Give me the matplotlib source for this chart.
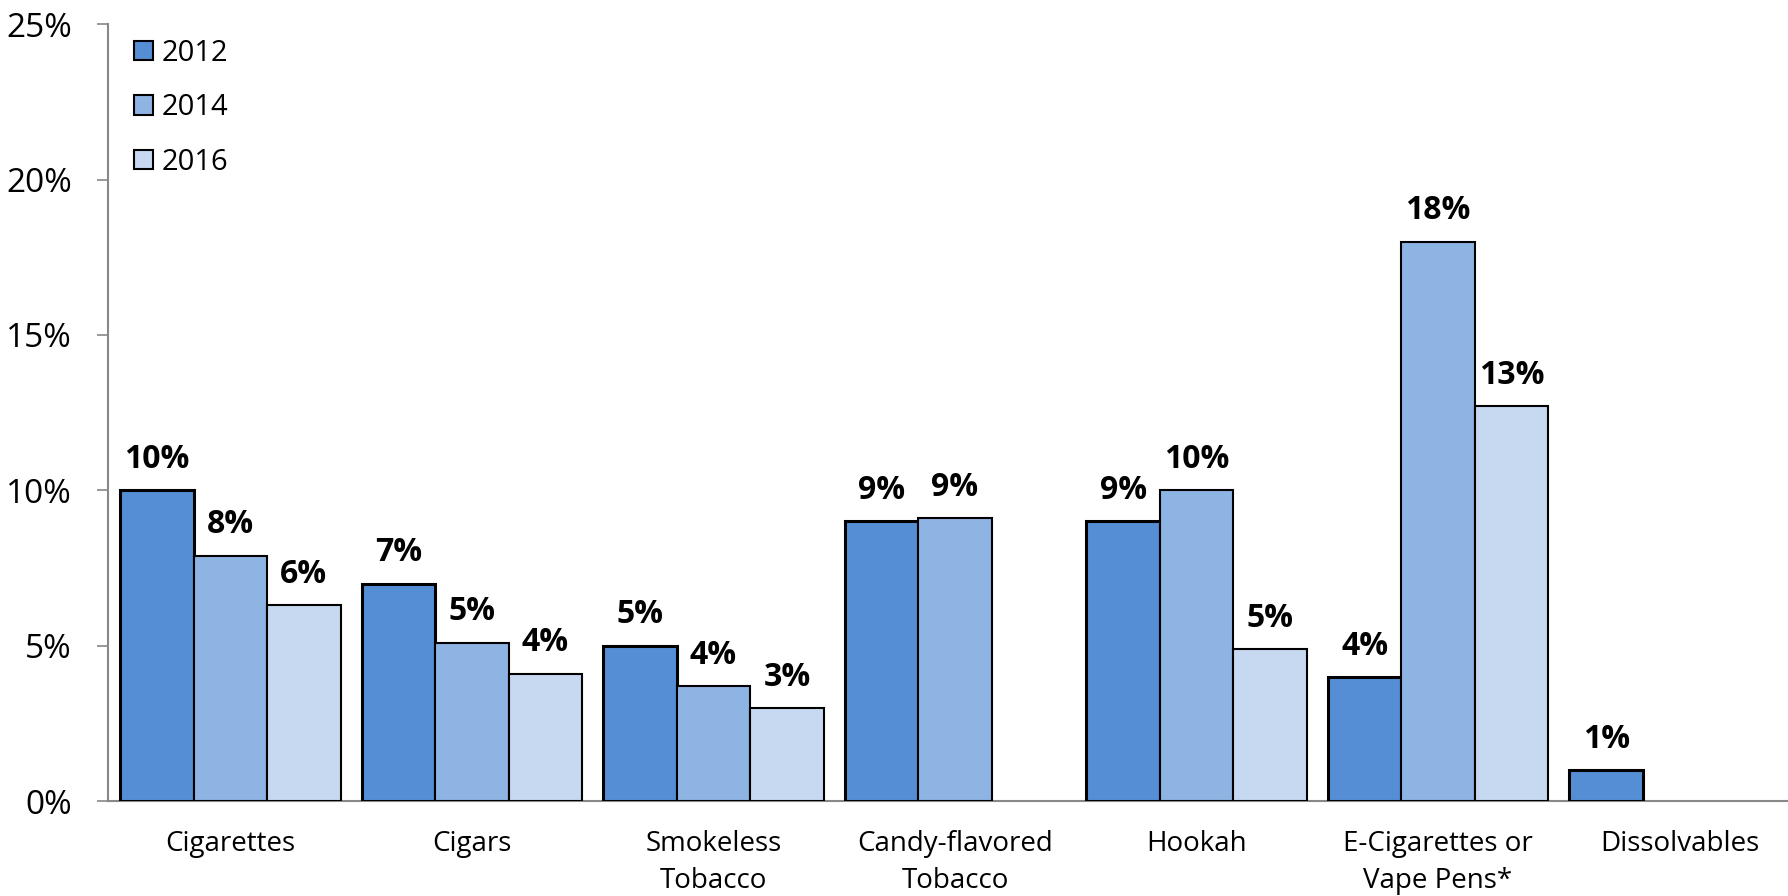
import matplotlib
matplotlib.use("Agg")
import matplotlib.pyplot as plt
import numpy as np

plt.rcParams['font.family'] = ['Open Sans', 'DejaVu Sans']

# Data
categories = ['Cigarettes', 'Cigars', 'Smokeless\nTobacco', 'Candy-flavored\nTobacco',
              'Hookah', 'E-Cigarettes or\nVape Pens*', 'Dissolvables']
years = ['2012', '2014', '2016']
vals_2012 = [10.0, 7.0, 5.0, 9.0, 9.0, 4.0, 1.0]
vals_2014 = [7.9, 5.1, 3.7, 9.1, 10.0, 18.0, np.nan]
vals_2016 = [6.3, 4.1, 3.0, np.nan, 4.9, 12.7, np.nan]
yticks = [0, 5, 10, 15, 20, 25]

colors = ['#558ED5', '#8EB4E3', '#C6D9F1']
edge_widths = [2.2, 1.5, 1.5]

fig = plt.figure(figsize=(17.88, 8.96), dpi=100)
ax = fig.add_axes([0.0604, 0.106, 0.9396, 0.867])

x = np.arange(len(categories))
width = 0.304
series = [vals_2012, vals_2014, vals_2016]

for i, (vals, year) in enumerate(zip(series, years)):
    pos = x + (i - 1) * width
    ax.bar(pos, vals, width, color=colors[i], edgecolor='black',
           linewidth=edge_widths[i], label=year, zorder=3)
    # value labels above each bar
    for xp, v in zip(pos, vals):
        if np.isnan(v):
            continue
        ax.annotate(f'{v:.0f}%', (xp, v), xytext=(0, 16), textcoords='offset points',
                    ha='center', va='baseline', fontsize=23, fontweight='bold')

ax.set_xlim(-0.507, 6.449)
ax.set_ylim(0, 25)
ax.set_yticks(yticks)
ax.set_yticklabels([f'{t}%' for t in yticks])
ax.set_xticks(x)
ax.set_xticklabels(categories, linespacing=1.42, fontsize=20)

ax.tick_params(axis='y', length=8, width=1.2, color='#888888', pad=18, labelsize=24)
ax.tick_params(axis='x', length=0, pad=21)

for s in ['top', 'right']:
    ax.spines[s].set_visible(False)
for s in ['left', 'bottom']:
    ax.spines[s].set_color('#888888')
    ax.spines[s].set_linewidth(1.5)

leg = ax.legend(loc='upper left', bbox_to_anchor=(0.0, 1.015), frameon=False, fontsize=21,
                handlelength=0.65, handleheight=0.65, labelspacing=0.87, handletextpad=0.3)
for h in leg.legend_handles:
    h.set_linewidth(1.5)

fig.savefig('out.png', dpi=100)
